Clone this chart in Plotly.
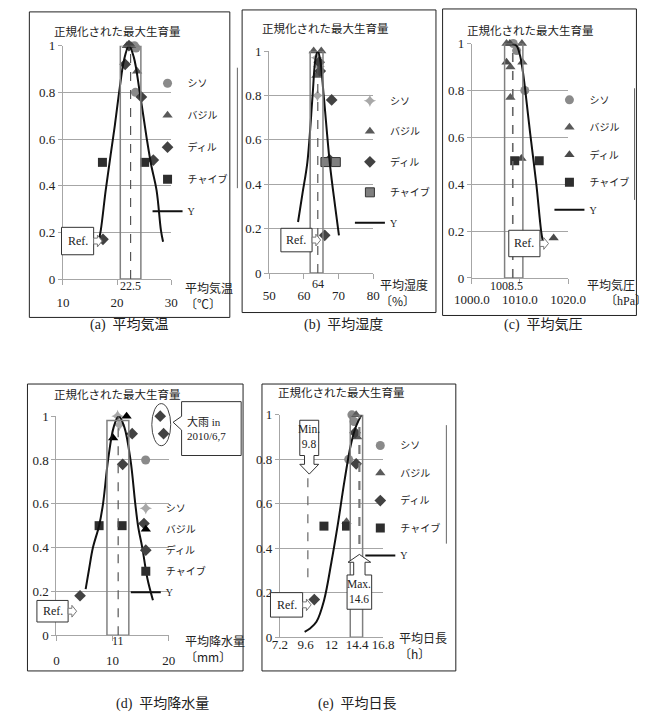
import plotly.graph_objects as go

W, H = 662, 724

# ---------------------------------------------------------------- data
y_ticks = [0, 0.2, 0.4, 0.6, 0.8, 1.0]
y_ticktext = ["0", "0.2", "0.4", "0.6", "0.8", "1"]
series_names = ["シソ", "バジル", "ディル", "チャイブ"]

# (a) mean temperature [deg C]
temp_ticks = [10, 20, 30]
temp_shiso_x = [23.2, 23.5, 23.4]
temp_shiso_y = [1.0, 0.99, 0.80]
temp_basil_x = [21.8, 22.6, 23.7]
temp_basil_y = [1.0, 1.0, 0.89]
temp_dill_x = [17.4, 21.5, 22.2, 24.5, 26.7]
temp_dill_y = [0.17, 0.92, 1.0, 0.78, 0.51]
temp_chive_x = [17.3, 25.1]
temp_chive_y = [0.50, 0.50]
temp_fit_x = [16.5, 17.0, 17.9, 18.8, 19.6, 20.5, 21.3, 22.2, 23.1, 24.2, 25.5, 26.3, 27.3, 28.1, 28.5]
temp_fit_y = [0.15, 0.21, 0.38, 0.53, 0.66, 0.82, 0.94, 1.00, 0.95, 0.80, 0.60, 0.49, 0.38, 0.21, 0.16]
temp_opt = 22.5
temp_band = [20.6, 24.4]

# (b) mean humidity [%]
hum_ticks = [50, 60, 70, 80]
hum_shiso_x = [63.7, 64.3, 63.9]
hum_shiso_y = [0.97, 0.93, 0.80]
hum_basil_x = [62.8, 65.0, 63.6]
hum_basil_y = [1.0, 1.0, 0.89]
hum_dill_x = [64.4, 64.7, 68.0, 67.4, 66.0]
hum_dill_y = [0.95, 0.91, 0.78, 0.51, 0.17]
hum_chive_x = [66.2, 69.2]
hum_chive_y = [0.50, 0.50]
hum_fit_x = [58.3, 59.6, 61.0, 62.5, 63.3, 64.0, 64.7, 65.7, 67.5, 69.0, 70.1]
hum_fit_y = [0.23, 0.36, 0.50, 0.80, 0.96, 1.00, 0.96, 0.80, 0.49, 0.30, 0.17]
hum_opt = 64
hum_band = [61.8, 65.5]

# (c) mean air pressure [hPa]
pres_ticks = [1000, 1010, 1020]
pres_ticktext = ["1000.0", "1010.0", "1020.0"]
pres_shiso_x = [1008.6, 1009.3, 1011.0]
pres_shiso_y = [1.0, 0.97, 0.80]
pres_basil_x = [1007.2, 1010.4, 1008.0, 1010.5, 1008.0]
pres_basil_y = [1.0, 1.0, 0.90, 0.92, 0.77]
pres_dill_x = [1007.2, 1007.9, 1010.3, 1017.0]
pres_dill_y = [0.92, 1.0, 0.51, 0.17]
pres_chive_x = [1008.9, 1014.0]
pres_chive_y = [0.50, 0.50]
pres_fit_x = [1008.4, 1009.3, 1010.0, 1010.6, 1011.1, 1012.1, 1013.4, 1014.4, 1014.8]
pres_fit_y = [1.00, 0.99, 0.95, 0.88, 0.80, 0.62, 0.40, 0.20, 0.15]
pres_opt = 1008.5
pres_band = [1006.8, 1010.6]

# (d) mean precipitation [mm]
rain_ticks = [0, 10, 20]
rain_shiso_x = [10.9, 11.2, 15.9]
rain_shiso_y = [1.0, 0.96, 0.80]
rain_basil_x = [10.1, 12.5]
rain_basil_y = [0.90, 1.0]
rain_dill_x = [4.2, 11.8, 13.5, 15.6, 18.5, 19.1]
rain_dill_y = [0.18, 0.78, 0.92, 0.51, 1.0, 0.92]
rain_chive_x = [7.6, 11.7]
rain_chive_y = [0.50, 0.50]
rain_fit_x = [5.2, 5.8, 6.5, 7.6, 8.3, 9.2, 10.2, 11.1, 12.1, 13.2, 14.05, 14.6, 15.3, 16.2, 17.2]
rain_fit_y = [0.21, 0.30, 0.40, 0.50, 0.60, 0.80, 0.95, 1.00, 0.95, 0.80, 0.60, 0.49, 0.40, 0.26, 0.16]
rain_opt = 11
rain_band = [9.0, 12.9]

# (e) mean day length [h]
day_ticks = [7.2, 9.6, 12, 14.4, 16.8]
day_ticktext = ["7.2", "9.6", "12", "14.4", "16.8"]
day_shiso_x = [13.9, 14.1, 13.6]
day_shiso_y = [1.0, 0.97, 0.80]
day_basil_x = [14.3, 14.4, 13.4]
day_basil_y = [1.0, 0.90, 0.52]
day_dill_x = [10.4, 14.2, 14.3]
day_dill_y = [0.17, 0.92, 0.78]
day_chive_x = [11.3, 13.4]
day_chive_y = [0.50, 0.50]
day_fit_x = [9.5, 10.0, 10.6, 11.3, 12.0, 12.6, 13.2, 13.8, 14.3, 14.8]
day_fit_y = [0.025, 0.04, 0.07, 0.165, 0.34, 0.51, 0.70, 0.865, 0.95, 1.00]
day_min = 9.8
day_max = 14.6
day_band = [13.75, 14.9]

# ---------------------------------------------------------------- helpers
def fx(p):
    return p / W


def fy(p):
    return 1 - p / H


SERIF = "Liberation Serif, Noto Sans CJK JP"
CJK = "Noto Sans CJK JP"
GRID = "#a6a6a6"

fig = go.Figure()
shapes = []
annotations = []


def ann(x, y, text, size=12, family=SERIF, xanchor="center", align="center",
        xref="paper", **kw):
    annotations.append(dict(x=x, y=y, xref=xref, yref="paper", text=text, showarrow=False,
                            xanchor=xanchor, yanchor="middle", align=align,
                            font=dict(family=family, size=size, color="#222"), **kw))


panels = [
    dict(key="", xdom=(47.5, 162), ydom=(39.5, 277.8), xr=[10, 30],
         ticks=temp_ticks, ticktext=[str(t) for t in temp_ticks], standoff=6,
         box=(12, 5, 224, 317),
         series=[(temp_shiso_x, temp_shiso_y), (temp_basil_x, temp_basil_y),
                 (temp_dill_x, temp_dill_y), (temp_chive_x, temp_chive_y)],
         fit=(temp_fit_x, temp_fit_y),
         symbols=["circle", "triangle-up", "diamond", "square"],
         colors=["#8a8a8a", "#5a5a5a", "#424242", "#2e2e2e"],
         legend=(170, 82, 32, 19),
         title=(105, 25), xlabel=(175, 295, "平均気温<br>〔℃〕"),
         caption=(118, 325, "(a)  平均気温")),
    dict(key="2", xdom=(265.7, 375.7), ydom=(45, 271.7), xr=[50, 80],
         ticks=hum_ticks, ticktext=[str(t) for t in hum_ticks], standoff=5,
         box=(237, 3, 442, 312),
         series=[(hum_shiso_x, hum_shiso_y), (hum_basil_x, hum_basil_y),
                 (hum_dill_x, hum_dill_y), (hum_chive_x, hum_chive_y)],
         fit=(hum_fit_x, hum_fit_y),
         symbols=["star-diamond", "triangle-up", "diamond", "square"],
         colors=["#a8a8a8", "#5a5a5a", "#424242", "#7f7f7f"],
         legend=(384, 100, 30.5, 19),
         title=(325, 21), xlabel=(381, 292, "平均湿度<br>〔%〕"),
         caption=(344, 325, "(b)  平均湿度")),
    dict(key="3", xdom=(480, 581.7), ydom=(37.3, 276.7), xr=[1000, 1020],
         ticks=pres_ticks, ticktext=pres_ticktext, standoff=4,
         box=(449, 2, 654, 315),
         series=[(pres_shiso_x, pres_shiso_y), (pres_basil_x, pres_basil_y),
                 (pres_dill_x, pres_dill_y), (pres_chive_x, pres_chive_y)],
         fit=(pres_fit_x, pres_fit_y),
         symbols=["circle", "triangle-up", "triangle-up", "square"],
         colors=["#8a8a8a", "#5a5a5a", "#4a4a4a", "#2e2e2e"],
         legend=(595, 98, 27.5, 18),
         title=(542, 23), xlabel=(600, 283, "平均気圧"),
         caption=(556, 325, "(c)  平均気圧")),
    dict(key="4", xdom=(40.7, 159.3), ydom=(417.8, 641.5), xr=[0, 20],
         ticks=rain_ticks, ticktext=[str(t) for t in rain_ticks], standoff=8,
         box=(10, 385, 238, 678),
         series=[(rain_shiso_x, rain_shiso_y), (rain_basil_x, rain_basil_y),
                 (rain_dill_x, rain_dill_y), (rain_chive_x, rain_chive_y)],
         fit=(rain_fit_x, rain_fit_y),
         symbols=[["star-diamond", "star-diamond", "circle"], "triangle-up", "diamond", "square"],
         colors=[["#a8a8a8", "#a8a8a8", "#8a8a8a"], "#000000", "#424242", "#2e2e2e"],
         legend=(147, 507, 21, 10),
         title=(105, 395), xlabel=(175, 655, "平均降水量<br>〔mm〕"),
         caption=(153, 712, "(d)  平均降水量")),
    dict(key="5", xdom=(277, 386), ydom=(416.5, 643.7), xr=[7.2, 16.8],
         ticks=day_ticks, ticktext=day_ticktext, standoff=-5,
         box=(258, 385, 463, 678),
         series=[(day_shiso_x, day_shiso_y), (day_basil_x, day_basil_y),
                 (day_dill_x, day_dill_y), (day_chive_x, day_chive_y)],
         fit=(day_fit_x, day_fit_y),
         symbols=["circle", "triangle-up", "diamond", "square"],
         colors=["#8a8a8a", "#5a5a5a", "#424242", "#2e2e2e"],
         legend=(395, 445, 27.5, 12),
         title=(342, 393), xlabel=(401, 652, "平均日長<br>〔h〕"),
         caption=(359, 712, "(e)  平均日長")),
]

layout_axes = {}
for p in panels:
    k = p["key"]
    xa, ya = "x" + k, "y" + k
    leg = "legend" + k
    layout_axes["xaxis" + k] = dict(
        domain=[fx(p["xdom"][0]), fx(p["xdom"][1])], range=p["xr"], anchor=ya,
        tickvals=p["ticks"], ticktext=p["ticktext"], showgrid=False, zeroline=False,
        showline=True, linecolor=GRID, linewidth=1.3, ticks="outside",
        ticklen=5 if k != "5" else 0, tickcolor=GRID,
        tickfont=dict(family=SERIF, size=13, color="#222"),
        ticklabelstandoff=p["standoff"], fixedrange=True)
    layout_axes["yaxis" + k] = dict(
        domain=[fy(p["ydom"][1]), fy(p["ydom"][0])], range=[0, 1], anchor=xa,
        tickvals=y_ticks, ticktext=y_ticktext, showgrid=True, gridcolor=GRID,
        gridwidth=1.3, zeroline=False, showline=True, linecolor=GRID, linewidth=1.3,
        ticks="outside", ticklen=4, tickcolor=GRID,
        tickfont=dict(family=SERIF, size=13, color="#222"), fixedrange=True)

    for j, (sx, sy) in enumerate(p["series"]):
        line = dict(width=0)
        if j == 3 and k == "2":
            line = dict(width=1, color="#333")
        fig.add_trace(go.Scatter(
            x=sx, y=sy, mode="markers", name=series_names[j], xaxis=xa, yaxis=ya,
            legend=leg, legendgroup=f"{k}-{j}", cliponaxis=False,
            marker=dict(symbol=p["symbols"][j], color=p["colors"][j], size=9, line=line)))
    fit_x, fit_y = p["fit"]
    fig.add_trace(go.Scatter(
        x=fit_x, y=fit_y, mode="lines", name="Y", xaxis=xa, yaxis=ya, legend=leg,
        legendgroup=f"{k}-fit", cliponaxis=False,
        line=dict(color="#111", width=2, shape="spline", smoothing=1.0)))

    lx, ly, pitch, top = p["legend"]
    layout_axes[leg] = dict(
        x=fx(lx - 33), y=fy(ly - top), xanchor="left", yanchor="top",
        bgcolor="rgba(0,0,0,0)", borderwidth=0, tracegroupgap=pitch - 19,
        font=dict(family=SERIF, size=10, color="#222"), itemclick=False,
        itemdoubleclick=False)

    bx0, by0, bx1, by1 = p["box"]
    shapes.append(dict(type="rect", xref="paper", yref="paper", x0=fx(bx0), x1=fx(bx1),
                       y0=fy(by1), y1=fy(by0), line=dict(color="#222", width=1)))
    tx, ty = p["title"]
    ann(fx(tx), fy(ty), "正規化された最大生育量", size=11.5, family=CJK)
    ax_, ay_, atxt = p["xlabel"]
    ann(fx(ax_), fy(ay_), atxt, size=12, family=CJK, xanchor="left", align="left")
    cx, cy, ctxt = p["caption"]
    ann(fx(cx), fy(cy), ctxt, size=14)

# hPa unit sits on the tick-label row
ann(fx(619), fy(300), "〔hPa〕", size=12, xanchor="left")


# ---------------------------------------------------------------- optimum bands
def band(k, x0, x1, top=1.0):
    shapes.append(dict(type="rect", xref="x" + k, yref="y" + k, x0=x0, x1=x1, y0=0, y1=top,
                       line=dict(color="#808080", width=1.5)))


def vdash(k, x, y0, y1, color="#555", width=1.2, dash="dash"):
    shapes.append(dict(type="line", xref="x" + k, yref="y" + k, x0=x, x1=x, y0=y0, y1=y1,
                       line=dict(color=color, width=width, dash=dash)))


band("", *temp_band)
vdash("", temp_opt, 0, 1)
band("2", *hum_band)
vdash("2", hum_opt, 0, 0.97)
band("3", *pres_band)
vdash("3", pres_opt, 0, 1, color="#666", width=1.6)
band("4", *rain_band, top=0.98)
vdash("4", rain_opt, 0, 1)
band("5", *day_band)
vdash("5", day_min, 0.27, 0.73, color="#666", width=1.2)
vdash("5", day_max, 0.42, 1.0, color="#777", width=2.2)

for k, xv, ypx, txt, shift in [("", temp_opt, 285, "22.5", 0), ("2", hum_opt, 283, "64", 0),
                               ("3", pres_opt, 285, "1008.5", -6), ("4", rain_opt, 647, "11", 0)]:
    ann(xv, fy(ypx), txt, size=12, xref="x" + k, xshift=shift)


# ---------------------------------------------------------------- callouts
def path(pts, fill="white", color="#555", width=1):
    d = "M " + " L ".join(f"{fx(a):.5f},{fy(b):.5f}" for a, b in pts) + " Z"
    shapes.append(dict(type="path", xref="paper", yref="paper", path=d,
                       fillcolor=fill, line=dict(color=color, width=width)))


def ref_box(x0, y0, x1, y1):
    path([(x0, y0), (x1, y0), (x1, y1), (x0, y1)], color="#333")
    yc = (y0 + y1) / 2
    path([(x1, yc - 3), (x1 + 4, yc - 3), (x1 + 4, yc - 6), (x1 + 9, yc),
          (x1 + 4, yc + 6), (x1 + 4, yc + 3), (x1, yc + 3)], color="#777")
    ann(fx((x0 + x1) / 2), fy(yc), "Ref.", size=12)


ref_box(46, 225, 80, 253)
ref_box(278, 226, 311, 250)
ref_box(519, 228, 552, 255)
ref_box(20, 606, 53, 628)
ref_box(267, 598, 301, 623)

# heavy-rain marker and note in (d)
shapes.append(dict(type="circle", xref="paper", yref="paper", x0=fx(141.5), x1=fx(161.5),
                   y0=fy(448), y1=fy(405), line=dict(color="#444", width=1)))
path([(173, 403), (236, 403), (236, 458), (173, 458), (173, 432), (164, 424), (173, 418)],
     color="#333")
ann(fx(177), fy(430), "大雨 in<br>2010/6,7", size=11, xanchor="left", align="left")

# Min / Max day-length arrows in (e)
path([(298, 422), (318, 422), (318, 458), (313, 458), (313, 467), (318, 467), (308, 477),
      (298, 467), (303, 467), (303, 458), (298, 458)], color="#333")
ann(fx(308), fy(439), "Min.<br>9.8", size=11.5)
path([(348, 615), (374, 615), (374, 580), (367, 580), (367, 567), (373, 567), (361, 559),
      (349, 567), (355, 567), (355, 580), (348, 580)], color="#333")
ann(fx(361), fy(597), "Max.<br>14.6", size=11.5)

# stray legend-frame edges
for x, y0, y1 in [(232, 62, 185), (652, 83, 197), (453, 427, 548)]:
    shapes.append(dict(type="line", xref="paper", yref="paper", x0=fx(x), x1=fx(x),
                       y0=fy(y1), y1=fy(y0), line=dict(color="#666", width=1)))

fig.update_layout(
    width=W, height=H, margin=dict(l=0, r=0, t=0, b=0),
    paper_bgcolor="white", plot_bgcolor="white", showlegend=True,
    shapes=shapes, annotations=annotations, **layout_axes)

fig.write_html("out.html")
